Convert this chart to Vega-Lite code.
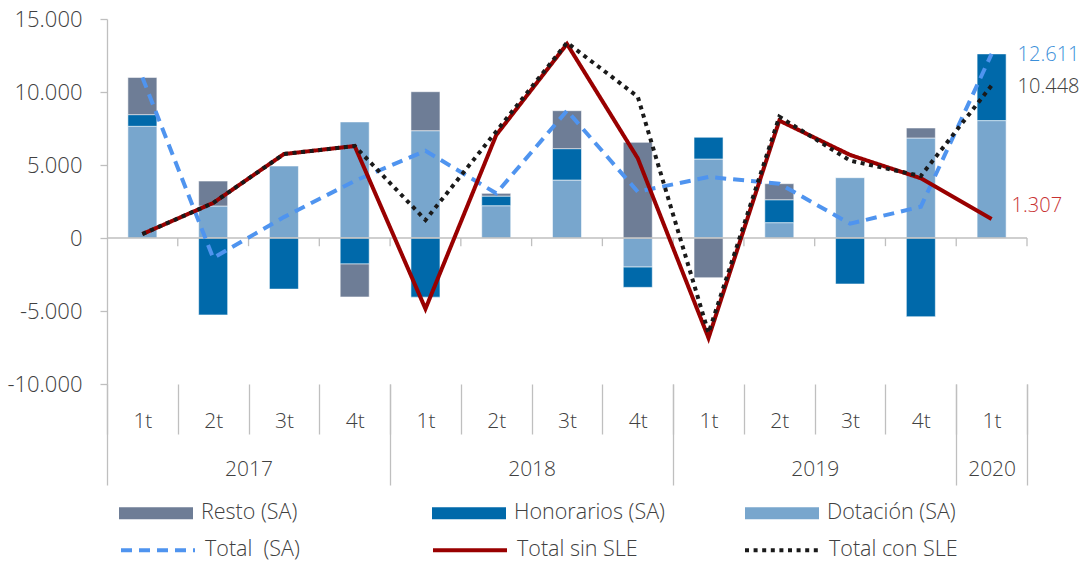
{
  "$schema": "https://vega.github.io/schema/vega-lite/v6.json",
  "width": 920,
  "height": 365,
  "autosize": {"type": "none"},
  "padding": {"left": 107, "top": 19, "right": 60, "bottom": 178},
  "background": "white",
  "config": {
    "view": {"stroke": null},
    "font": "Open Sans",
    "axis": {"labelFont": "Open Sans", "labelColor": "#404040", "labelFontWeight": 300, "title": null, "grid": false, "domainColor": "#bfbfbf", "tickColor": "#bfbfbf"},
    "legend": {"labelFont": "Open Sans", "labelColor": "#404040", "labelFontWeight": 300}
  },
  "datasets": {
    "periodos": [
      {"periodo": "2017-1t"}, {"periodo": "2017-2t"}, {"periodo": "2017-3t"}, {"periodo": "2017-4t"},
      {"periodo": "2018-1t"}, {"periodo": "2018-2t"}, {"periodo": "2018-3t"}, {"periodo": "2018-4t"},
      {"periodo": "2019-1t"}, {"periodo": "2019-2t"}, {"periodo": "2019-3t"}, {"periodo": "2019-4t"},
      {"periodo": "2020-1t"}
    ],
    "barras": [
      {"periodo": "2017-1t", "componente": "Dotación (SA)", "valor": 7650},
      {"periodo": "2017-1t", "componente": "Honorarios (SA)", "valor": 800},
      {"periodo": "2017-1t", "componente": "Resto (SA)", "valor": 2550},
      {"periodo": "2017-2t", "componente": "Dotación (SA)", "valor": 2190},
      {"periodo": "2017-2t", "componente": "Honorarios (SA)", "valor": -5270},
      {"periodo": "2017-2t", "componente": "Resto (SA)", "valor": 1710},
      {"periodo": "2017-3t", "componente": "Dotación (SA)", "valor": 4930},
      {"periodo": "2017-3t", "componente": "Honorarios (SA)", "valor": -3500},
      {"periodo": "2017-4t", "componente": "Dotación (SA)", "valor": 7950},
      {"periodo": "2017-4t", "componente": "Honorarios (SA)", "valor": -1780},
      {"periodo": "2017-4t", "componente": "Resto (SA)", "valor": -2260},
      {"periodo": "2018-1t", "componente": "Dotación (SA)", "valor": 7350},
      {"periodo": "2018-1t", "componente": "Honorarios (SA)", "valor": -4050},
      {"periodo": "2018-1t", "componente": "Resto (SA)", "valor": 2670},
      {"periodo": "2018-2t", "componente": "Dotación (SA)", "valor": 2210},
      {"periodo": "2018-2t", "componente": "Honorarios (SA)", "valor": 660},
      {"periodo": "2018-2t", "componente": "Resto (SA)", "valor": 190},
      {"periodo": "2018-3t", "componente": "Dotación (SA)", "valor": 3970},
      {"periodo": "2018-3t", "componente": "Honorarios (SA)", "valor": 2150},
      {"periodo": "2018-3t", "componente": "Resto (SA)", "valor": 2600},
      {"periodo": "2018-4t", "componente": "Dotación (SA)", "valor": -1990},
      {"periodo": "2018-4t", "componente": "Honorarios (SA)", "valor": -1390},
      {"periodo": "2018-4t", "componente": "Resto (SA)", "valor": 6550},
      {"periodo": "2019-1t", "componente": "Dotación (SA)", "valor": 5410},
      {"periodo": "2019-1t", "componente": "Honorarios (SA)", "valor": 1490},
      {"periodo": "2019-1t", "componente": "Resto (SA)", "valor": -2720},
      {"periodo": "2019-2t", "componente": "Dotación (SA)", "valor": 1050},
      {"periodo": "2019-2t", "componente": "Honorarios (SA)", "valor": 1570},
      {"periodo": "2019-2t", "componente": "Resto (SA)", "valor": 1100},
      {"periodo": "2019-3t", "componente": "Dotación (SA)", "valor": 4130},
      {"periodo": "2019-3t", "componente": "Honorarios (SA)", "valor": -3150},
      {"periodo": "2019-4t", "componente": "Dotación (SA)", "valor": 6850},
      {"periodo": "2019-4t", "componente": "Honorarios (SA)", "valor": -5390},
      {"periodo": "2019-4t", "componente": "Resto (SA)", "valor": 685},
      {"periodo": "2020-1t", "componente": "Dotación (SA)", "valor": 8040},
      {"periodo": "2020-1t", "componente": "Honorarios (SA)", "valor": 4571}
    ],
    "lineas": [
      {"periodo": "2017-1t", "serie": "Total \u00a0(SA)", "valor": 11000},
      {"periodo": "2017-2t", "serie": "Total \u00a0(SA)", "valor": -1370},
      {"periodo": "2017-3t", "serie": "Total \u00a0(SA)", "valor": 1430},
      {"periodo": "2017-4t", "serie": "Total \u00a0(SA)", "valor": 3910},
      {"periodo": "2018-1t", "serie": "Total \u00a0(SA)", "valor": 5970},
      {"periodo": "2018-2t", "serie": "Total \u00a0(SA)", "valor": 3060},
      {"periodo": "2018-3t", "serie": "Total \u00a0(SA)", "valor": 8720},
      {"periodo": "2018-4t", "serie": "Total \u00a0(SA)", "valor": 3170},
      {"periodo": "2019-1t", "serie": "Total \u00a0(SA)", "valor": 4180},
      {"periodo": "2019-2t", "serie": "Total \u00a0(SA)", "valor": 3720},
      {"periodo": "2019-3t", "serie": "Total \u00a0(SA)", "valor": 980},
      {"periodo": "2019-4t", "serie": "Total \u00a0(SA)", "valor": 2145},
      {"periodo": "2020-1t", "serie": "Total \u00a0(SA)", "valor": 12611},
      {"periodo": "2017-1t", "serie": "Total sin SLE", "valor": 270},
      {"periodo": "2017-2t", "serie": "Total sin SLE", "valor": 2400},
      {"periodo": "2017-3t", "serie": "Total sin SLE", "valor": 5750},
      {"periodo": "2017-4t", "serie": "Total sin SLE", "valor": 6300},
      {"periodo": "2018-1t", "serie": "Total sin SLE", "valor": -4850},
      {"periodo": "2018-2t", "serie": "Total sin SLE", "valor": 7050},
      {"periodo": "2018-3t", "serie": "Total sin SLE", "valor": 13290},
      {"periodo": "2018-4t", "serie": "Total sin SLE", "valor": 5460},
      {"periodo": "2019-1t", "serie": "Total sin SLE", "valor": -6850},
      {"periodo": "2019-2t", "serie": "Total sin SLE", "valor": 8040},
      {"periodo": "2019-3t", "serie": "Total sin SLE", "valor": 5690},
      {"periodo": "2019-4t", "serie": "Total sin SLE", "valor": 4090},
      {"periodo": "2020-1t", "serie": "Total sin SLE", "valor": 1307},
      {"periodo": "2017-1t", "serie": "Total con SLE", "valor": 270},
      {"periodo": "2017-2t", "serie": "Total con SLE", "valor": 2400},
      {"periodo": "2017-3t", "serie": "Total con SLE", "valor": 5750},
      {"periodo": "2017-4t", "serie": "Total con SLE", "valor": 6300},
      {"periodo": "2018-1t", "serie": "Total con SLE", "valor": 1230},
      {"periodo": "2018-2t", "serie": "Total con SLE", "valor": 7300},
      {"periodo": "2018-3t", "serie": "Total con SLE", "valor": 13380},
      {"periodo": "2018-4t", "serie": "Total con SLE", "valor": 9680},
      {"periodo": "2019-1t", "serie": "Total con SLE", "valor": -6500},
      {"periodo": "2019-2t", "serie": "Total con SLE", "valor": 8310},
      {"periodo": "2019-3t", "serie": "Total con SLE", "valor": 5300},
      {"periodo": "2019-4t", "serie": "Total con SLE", "valor": 4250},
      {"periodo": "2020-1t", "serie": "Total con SLE", "valor": 10448}
    ],
    "etiquetas": [
      {"periodo": "2020-1t", "serie": "Total \u00a0(SA)", "valor": 12611, "texto": "12.611"},
      {"periodo": "2020-1t", "serie": "Total con SLE", "valor": 10448, "texto": "10.448"},
      {"periodo": "2020-1t", "serie": "Total sin SLE", "valor": 1307, "texto": "1.307"}
    ]
  },
  "resolve": {"scale": {"x": "independent"}, "axis": {"x": "independent"}},
  "layer": [
    {
      "data": {"name": "barras"},
      "mark": {"type": "bar", "stroke": "#ffffff", "strokeOpacity": 0.55, "strokeWidth": 1},
      "encoding": {
        "x": {"field": "periodo", "type": "nominal", "axis": null,
              "scale": {"type": "band", "domain": ["2017-1t","2017-2t","2017-3t","2017-4t","2018-1t","2018-2t","2018-3t","2018-4t","2019-1t","2019-2t","2019-3t","2019-4t","2020-1t"], "paddingInner": 0.59, "paddingOuter": 0.295}},
        "y": {"field": "valor", "type": "quantitative", "stack": "zero",
              "scale": {"domain": [-10000, 15000], "nice": false, "zero": false},
              "axis": {"orient": "left", "values": [-10000, -5000, 0, 5000, 10000, 15000], "labelExpr": "replace(replace(format(datum.value, ',d'), ',', '.'), '\u2212', '-')", "labelFontSize": 22, "tickSize": 7, "labelPadding": 18, "domainWidth": 1.3, "tickWidth": 1.3}},
        "fill": {"field": "componente", "type": "nominal",
                 "scale": {"domain": ["Resto (SA)", "Honorarios (SA)", "Dotación (SA)"], "range": ["#6e7d96", "#0069aa", "#78a6cd"]},
                 "legend": {"orient": "none", "legendX": 12, "legendY": 457, "direction": "horizontal", "columns": 3, "columnPadding": 80, "gridAlign": "all", "title": null,
                            "symbolType": "M-1,-0.16H1V0.16H-1Z", "symbolSize": 5476, "symbolStrokeWidth": 0, "symbolOpacity": 1,
                            "labelFontSize": 21.5, "labelOffset": 8, "labelLimit": 400}},
        "order": {"field": "componente", "sort": "ascending"}
      }
    },
    {
      "data": {"values": [{}]},
      "mark": {"type": "rule", "color": "#bfbfbf", "strokeWidth": 1.5},
      "encoding": {
        "y": {"datum": 0, "type": "quantitative"}
      }
    },
    {
      "data": {"name": "periodos"},
      "mark": {"type": "rule", "color": "#bfbfbf", "strokeWidth": 1.3},
      "encoding": {
        "x": {"field": "periodo", "type": "nominal", "bandPosition": 1, "axis": null,
              "scale": {"type": "band", "domain": ["2017-1t","2017-2t","2017-3t","2017-4t","2018-1t","2018-2t","2018-3t","2018-4t","2019-1t","2019-2t","2019-3t","2019-4t","2020-1t"], "paddingInner": 0, "paddingOuter": 0}},
        "y": {"datum": 0, "type": "quantitative"},
        "y2": {"datum": -560}
      }
    },
    {
      "data": {"name": "periodos"},
      "mark": {"type": "point", "opacity": 0},
      "encoding": {
        "x": {"field": "periodo", "type": "nominal",
              "scale": {"type": "band", "domain": ["2017-1t","2017-2t","2017-3t","2017-4t","2018-1t","2018-2t","2018-3t","2018-4t","2019-1t","2019-2t","2019-3t","2019-4t","2020-1t"], "paddingInner": 0, "paddingOuter": 0},
              "axis": {"orient": "bottom", "offset": 0, "domain": false, "tickBand": "extent", "tickSize": 50, "tickWidth": 1.3, "labelExpr": "isString(datum.value) ? slice(datum.value, 5) : ''", "labelAngle": 0, "labelFontSize": 21, "labelPadding": -24, "labelOverlap": false}}
      }
    },
    {
      "data": {"values": [{}]},
      "mark": {"type": "point", "opacity": 0},
      "encoding": {
        "x": {"datum": 0, "type": "quantitative",
              "scale": {"domain": [0, 13], "nice": false, "zero": false},
              "axis": {"orient": "bottom", "offset": 0, "domain": false, "values": [0, 4, 8, 12, 13], "tickSize": 101, "tickWidth": 1.3, "labels": false}}
      }
    },
    {
      "data": {"values": [{}]},
      "mark": {"type": "point", "opacity": 0},
      "encoding": {
        "x": {"datum": 0, "type": "quantitative",
              "scale": {"domain": [0, 13], "nice": false, "zero": false},
              "axis": {"orient": "bottom", "offset": 0, "domain": false, "values": [2, 6, 10, 12.5], "ticks": false, "labelExpr": "datum.value == 2 ? '2017' : datum.value == 6 ? '2018' : datum.value == 10 ? '2019' : '2020'", "labelFontSize": 21, "labelPadding": 74, "labelOverlap": false, "labelFlush": false}}
      }
    },
    {
      "data": {"name": "lineas"},
      "transform": [{"filter": {"field": "serie", "equal": "Total \u00a0(SA)"}}],
      "mark": {"type": "line", "strokeWidth": 4},
      "encoding": {
        "x": {"field": "periodo", "type": "nominal", "axis": null,
              "scale": {"type": "point", "padding": 0.5, "domain": ["2017-1t","2017-2t","2017-3t","2017-4t","2018-1t","2018-2t","2018-3t","2018-4t","2019-1t","2019-2t","2019-3t","2019-4t","2020-1t"]}},
        "y": {"field": "valor", "type": "quantitative"},
        "stroke": {"field": "serie", "type": "nominal",
                   "scale": {"domain": ["Total \u00a0(SA)", "Total sin SLE", "Total con SLE"], "range": ["#4f94ef", "#990000", "#1a1a1a"]},
                   "legend": {"orient": "none", "legendX": 12, "legendY": 492, "direction": "horizontal", "columns": 3, "columnPadding": 91, "gridAlign": "all", "title": null,
                              "symbolType": "stroke", "symbolSize": 5476, "symbolStrokeWidth": 4, "labelFontSize": 21.5, "labelOffset": 8, "labelLimit": 400}},
        "strokeDash": {"field": "serie", "type": "nominal",
                       "scale": {"domain": ["Total \u00a0(SA)", "Total sin SLE", "Total con SLE"], "range": [[11, 7], [1, 0], [4, 4.6]]},
                       "legend": {"orient": "none", "legendX": 12, "legendY": 492, "direction": "horizontal", "columns": 3, "columnPadding": 91, "gridAlign": "all", "title": null,
                              "symbolType": "stroke", "symbolSize": 5476, "symbolStrokeWidth": 4, "labelFontSize": 21.5, "labelOffset": 8, "labelLimit": 400}}
      }
    },
    {
      "data": {"name": "lineas"},
      "transform": [{"filter": {"field": "serie", "equal": "Total sin SLE"}}],
      "mark": {"type": "line", "strokeWidth": 4},
      "encoding": {
        "x": {"field": "periodo", "type": "nominal", "axis": null,
              "scale": {"type": "point", "padding": 0.5, "domain": ["2017-1t","2017-2t","2017-3t","2017-4t","2018-1t","2018-2t","2018-3t","2018-4t","2019-1t","2019-2t","2019-3t","2019-4t","2020-1t"]}},
        "y": {"field": "valor", "type": "quantitative"},
        "stroke": {"field": "serie", "type": "nominal"},
        "strokeDash": {"field": "serie", "type": "nominal"}
      }
    },
    {
      "data": {"name": "lineas"},
      "transform": [{"filter": {"field": "serie", "equal": "Total con SLE"}}],
      "mark": {"type": "line", "strokeWidth": 4},
      "encoding": {
        "x": {"field": "periodo", "type": "nominal", "axis": null,
              "scale": {"type": "point", "padding": 0.5, "domain": ["2017-1t","2017-2t","2017-3t","2017-4t","2018-1t","2018-2t","2018-3t","2018-4t","2019-1t","2019-2t","2019-3t","2019-4t","2020-1t"]}},
        "y": {"field": "valor", "type": "quantitative"},
        "stroke": {"field": "serie", "type": "nominal"},
        "strokeDash": {"field": "serie", "type": "nominal"}
      }
    },
    {
      "data": {"name": "etiquetas"},
      "transform": [{"filter": {"field": "serie", "equal": "Total \u00a0(SA)"}}],
      "mark": {"type": "text", "align": "left", "baseline": "middle", "dx": 26, "dy": 1, "fontSize": 20, "fontWeight": 300, "font": "Open Sans", "color": "#3b8fd9"},
      "encoding": {
        "x": {"field": "periodo", "type": "nominal", "axis": null,
              "scale": {"type": "point", "padding": 0.5, "domain": ["2017-1t","2017-2t","2017-3t","2017-4t","2018-1t","2018-2t","2018-3t","2018-4t","2019-1t","2019-2t","2019-3t","2019-4t","2020-1t"]}},
        "y": {"field": "valor", "type": "quantitative"},
        "text": {"field": "texto", "type": "nominal"}
      }
    },
    {
      "data": {"name": "etiquetas"},
      "transform": [{"filter": {"field": "serie", "equal": "Total con SLE"}}],
      "mark": {"type": "text", "align": "left", "baseline": "middle", "dx": 26, "dy": 2, "fontSize": 20, "fontWeight": 300, "font": "Open Sans", "color": "#404040"},
      "encoding": {
        "x": {"field": "periodo", "type": "nominal", "axis": null,
              "scale": {"type": "point", "padding": 0.5, "domain": ["2017-1t","2017-2t","2017-3t","2017-4t","2018-1t","2018-2t","2018-3t","2018-4t","2019-1t","2019-2t","2019-3t","2019-4t","2020-1t"]}},
        "y": {"field": "valor", "type": "quantitative"},
        "text": {"field": "texto", "type": "nominal"}
      }
    },
    {
      "data": {"name": "etiquetas"},
      "transform": [{"filter": {"field": "serie", "equal": "Total sin SLE"}}],
      "mark": {"type": "text", "align": "left", "baseline": "middle", "dx": 20, "dy": -13, "fontSize": 20, "fontWeight": 300, "font": "Open Sans", "color": "#c83232"},
      "encoding": {
        "x": {"field": "periodo", "type": "nominal", "axis": null,
              "scale": {"type": "point", "padding": 0.5, "domain": ["2017-1t","2017-2t","2017-3t","2017-4t","2018-1t","2018-2t","2018-3t","2018-4t","2019-1t","2019-2t","2019-3t","2019-4t","2020-1t"]}},
        "y": {"field": "valor", "type": "quantitative"},
        "text": {"field": "texto", "type": "nominal"}
      }
    }
  ]
}
